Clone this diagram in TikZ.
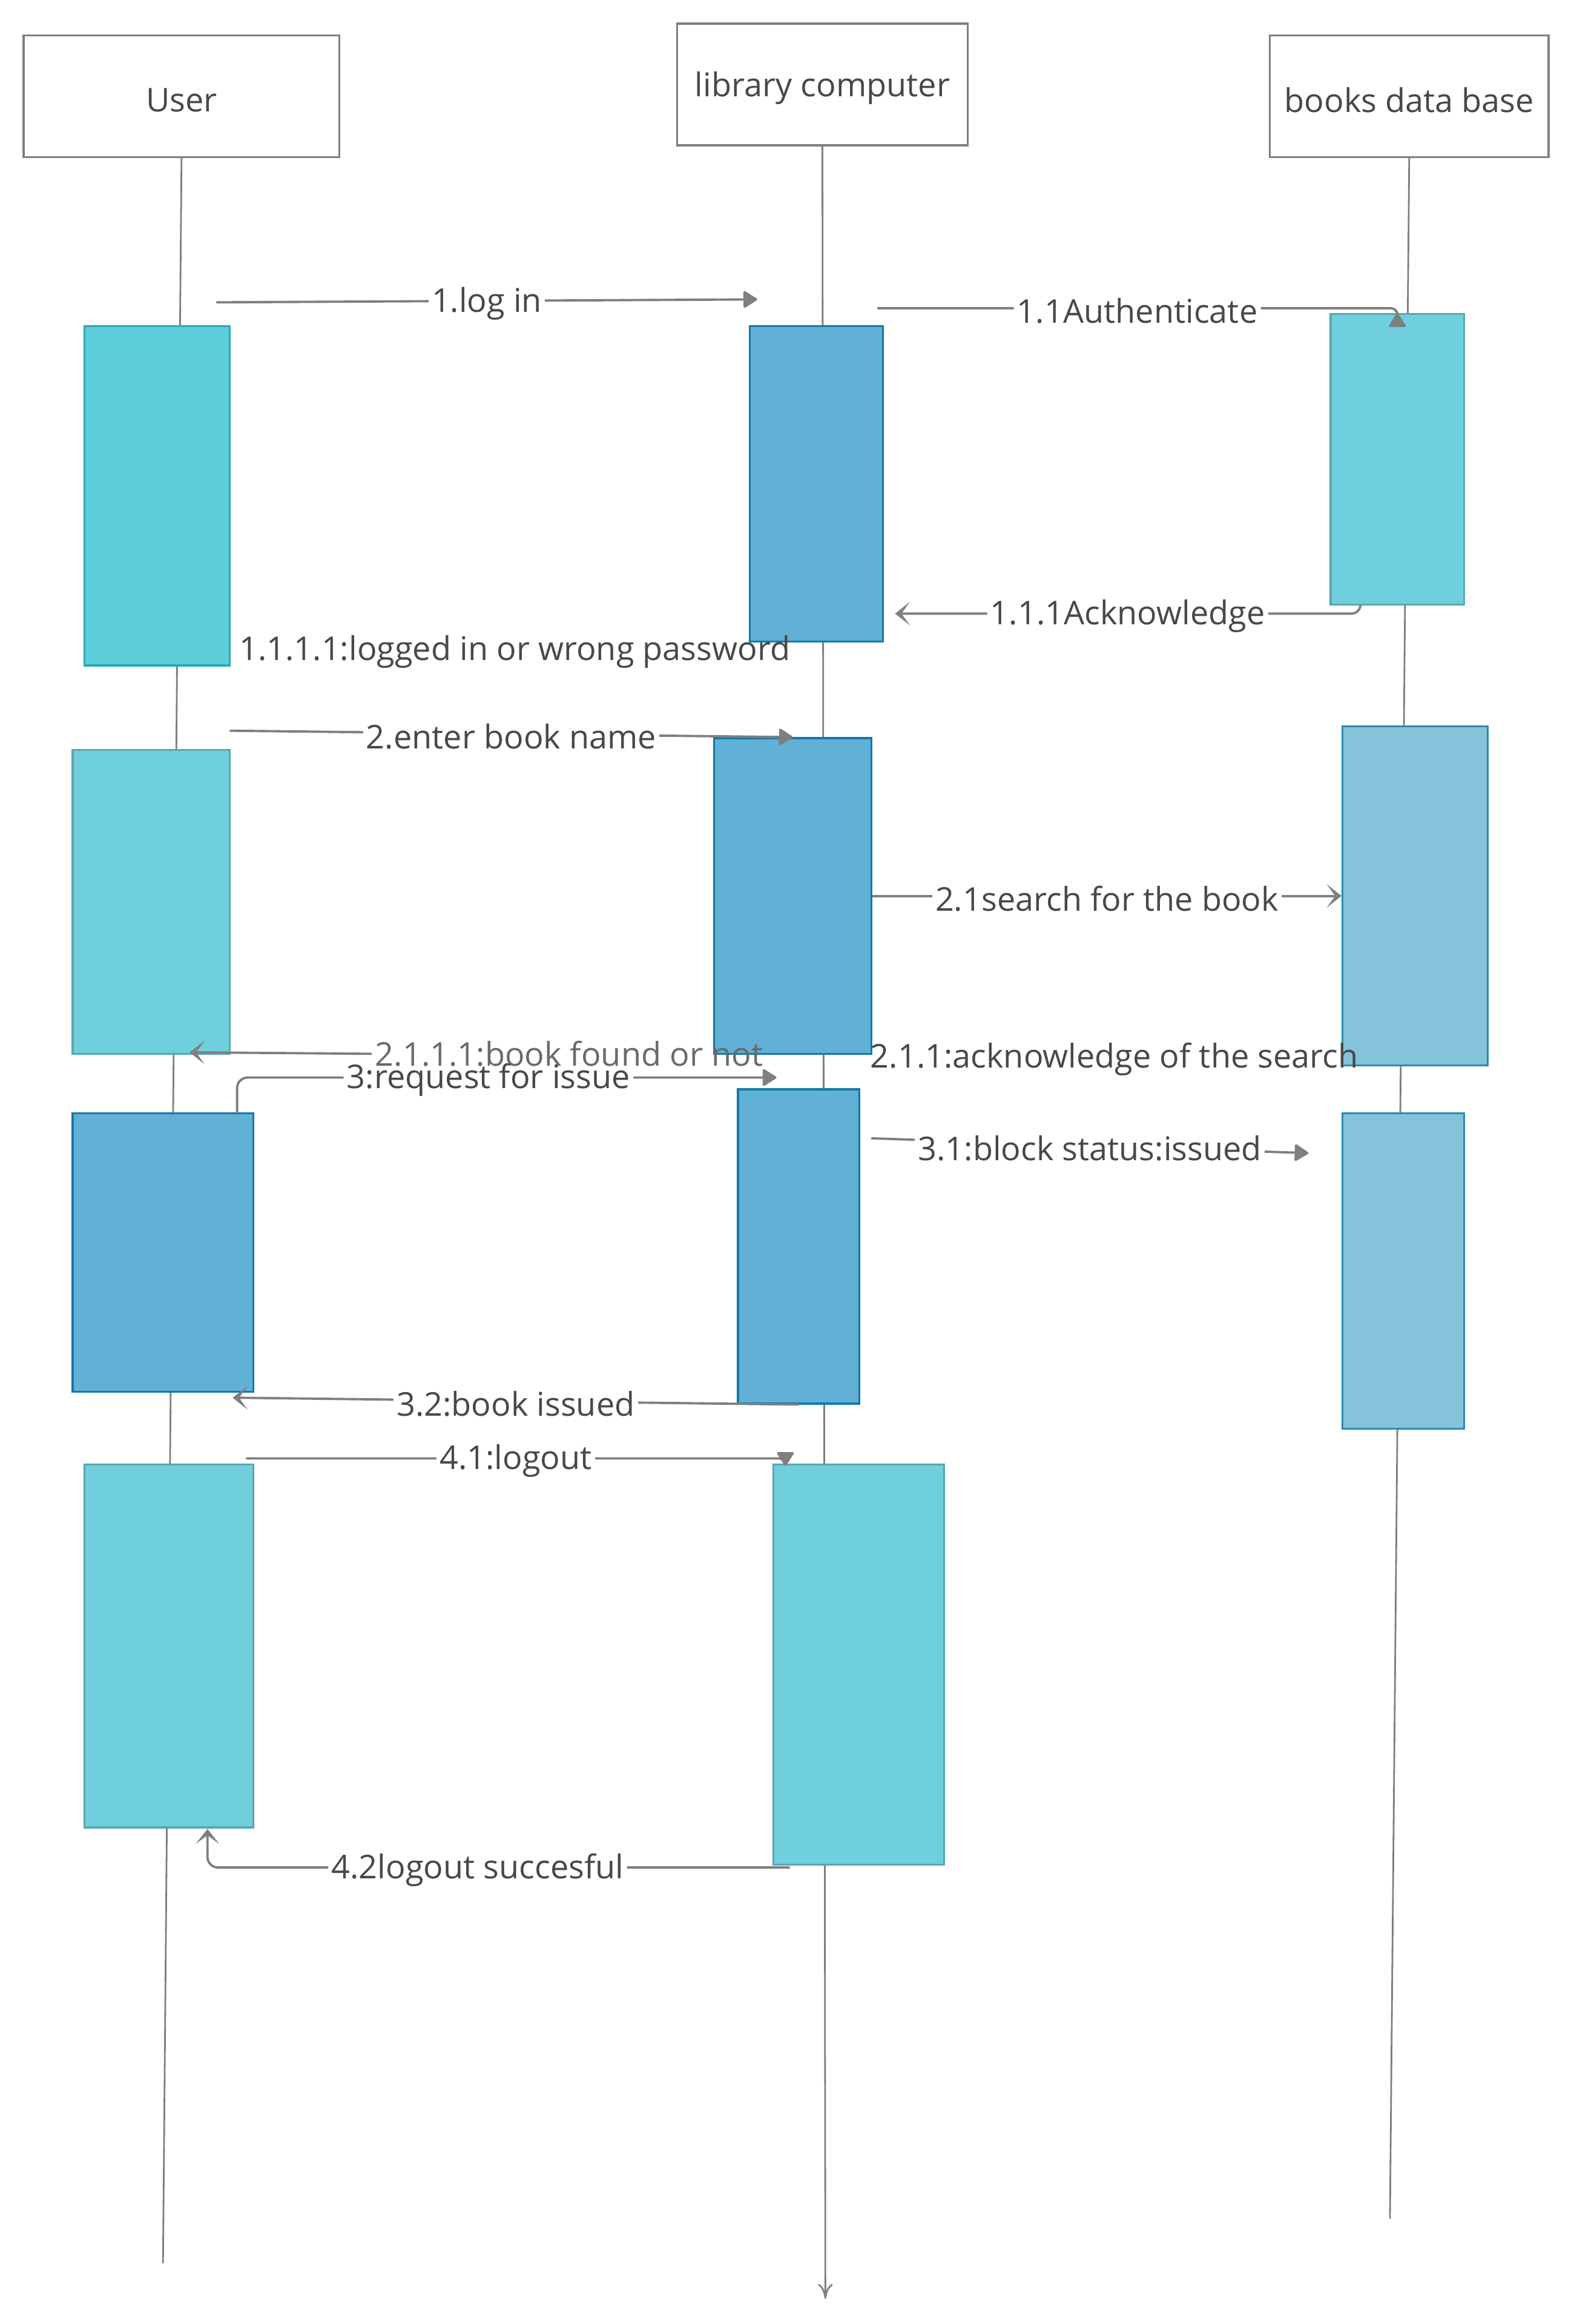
\documentclass[tikz,border=0pt]{standalone}
\usepackage{fontspec}
\setmainfont{Open Sans}
\usetikzlibrary{arrows.meta,fit}

\definecolor{linegray}{HTML}{7F7F7F}
\definecolor{txtgray}{HTML}{484848}
\definecolor{softgray}{HTML}{6A6A6A}
\definecolor{cyanA}{HTML}{5ECDDB}
\definecolor{cyanAline}{HTML}{2EA8B4}
\definecolor{cyanB}{HTML}{70CFDC}
\definecolor{cyanBline}{HTML}{58A8B3}
\definecolor{blueA}{HTML}{61B0D5}
\definecolor{blueAline}{HTML}{1279A8}
\definecolor{blueB}{HTML}{85C3DB}
\definecolor{blueBline}{HTML}{2A8AB0}

\begin{document}
\begin{tikzpicture}[x=0.0245cm, y=-0.0245cm,
  every node/.style={font=\fontsize{15.4}{18}\selectfont, text=txtgray},
  every label/.append style={yshift=-1.8pt},
  head/.style={draw=linegray, line width=1pt, fill=white, inner sep=0pt},
  act/.style={inner sep=0pt, line width=0.9pt},
  life/.style={draw=linegray, line width=0.8pt},
  msg/.style={draw=linegray, line width=1.1pt, -{Triangle[length=7pt, width=8.5pt, round]}},
  back/.style={draw=linegray, line width=1.1pt, -{Stealth[length=7pt, width=11pt, inset=4pt]}},
  lbl/.style={fill=white, inner sep=1.5pt, yshift=-1.2pt},
  note/.style={inner sep=1.5pt, anchor=west, yshift=-1.2pt}]

  \useasboundingbox (0,0) rectangle (1062,1568);

  %Define nodes
  \node[head, fit={(16,24) (229,106)}, label=center:User] (user) {};
  \node[head, fit={(457,16) (653,98)}, label=center:library computer] (comp) {};
  \node[head, fit={(857,24) (1045,106)}, label=center:books data base] (books) {};

  \coordinate (userend) at (110,1527);
  \coordinate (compend) at (557,1551);
  \coordinate (booksend) at (938,1497);

  % Lifelines
  \draw[life] (user.south) -- (userend);
  \draw[life, -{Computer Modern Rightarrow[length=7pt, width=7pt]}] (comp.south) -- (compend);
  \draw[life] (books.south) -- (booksend);

  % Activations
  \node[act, fill=cyanA, draw=cyanAline, fit={(57,220) (155,449)}] (U1) {};
  \node[act, fill=cyanB, draw=cyanBline, fit={(49,506) (155,711)}] (U2) {};
  \node[act, fill=blueA, draw=blueAline, fit={(49,751) (171,939)}] (U3) {};
  \node[act, fill=cyanB, draw=cyanBline, fit={(57,988) (171,1233)}] (U4) {};

  \node[act, fill=blueA, draw=blueAline, fit={(506,220) (596,433)}] (L1) {};
  \node[act, fill=blueA, draw=blueAline, fit={(482,498) (588,711)}] (L2) {};
  \node[act, fill=blueA, draw=blueAline, fit={(498,735) (580,947)}] (L3) {};
  \node[act, fill=cyanB, draw=cyanBline, fit={(522,988) (637,1258)}] (L4) {};

  \node[act, fill=cyanB, draw=cyanBline, fit={(898,212) (988,408)}] (B1) {};
  \node[act, fill=blueB, draw=blueBline, fit={(906,490) (1004,719)}] (B2) {};
  \node[act, fill=blueB, draw=blueBline, fit={(906,751) (988,964)}] (B3) {};

  % Free ends of the messages
  \coordinate (m1s) at (146,204);
  \coordinate (m1e) at (511,202);
  \coordinate (m11s) at (592,208);
  \coordinate (m111s) at (918,408);
  \coordinate (m111e) at (604,414);
  \coordinate (m2s) at (155,493);
  \coordinate (m2111e) at (128,710);
  \coordinate (m3s) at (160,751);
  \coordinate (m3e) at (524,727);
  \coordinate (m31s) at (588,768);
  \coordinate (m31e) at (883,778);
  \coordinate (m32e) at (157,943);
  \coordinate (m41s) at (166,984);
  \coordinate (m41e) at (530,989);
  \coordinate (m42s) at (533,1260);
  \coordinate (m42e) at (140,1234);

  % Connect the nodes
  \draw[msg] (m1s) -- node[lbl] {1.log in} (m1e);
  \draw[msg, rounded corners=3pt] (m11s) -- node[lbl] {1.1Authenticate} (B1.north |- m11s) -- (B1.north);
  \draw[back, rounded corners=4pt] (m111s) |- node[lbl, pos=0.75] {1.1.1Acknowledge} (m111e);
  \draw[msg] (m2s) -- node[lbl] {2.enter book name} (L2.north);
  \draw[back] (L2.east) -- node[lbl] {2.1search for the book} (B2.west);
  \draw[msg, rounded corners=5pt] (m3s) |- node[lbl, pos=0.733] {3:request for issue} (m3e);
  \node[inner sep=1.5pt, text=softgray] (l2111) at (384,711) {2.1.1.1:book found or not};
  \draw[back] (l2111.west) -- (m2111e);
  \draw[msg] (m31s) -- node[lbl] {3.1:block status:issued} (m31e);
  \draw[back] (L3.south) -- node[lbl] {3.2:book issued} (m32e);
  \draw[msg, rounded corners=3pt] (m41s) -- node[lbl] {4.1:logout} (m41e |- m41s) -- (m41e);
  \draw[back, rounded corners=5pt] (m42s) -| node[lbl, pos=0.268] {4.2logout succesful} (m42e);

  % Notes without a line
  \node[note] (n1111) at (159,438) {1.1.1.1:logged in or wrong password};
  \node[note] (n211) at (585,713) {2.1.1:acknowledge of the search};

\end{tikzpicture}
\end{document}
